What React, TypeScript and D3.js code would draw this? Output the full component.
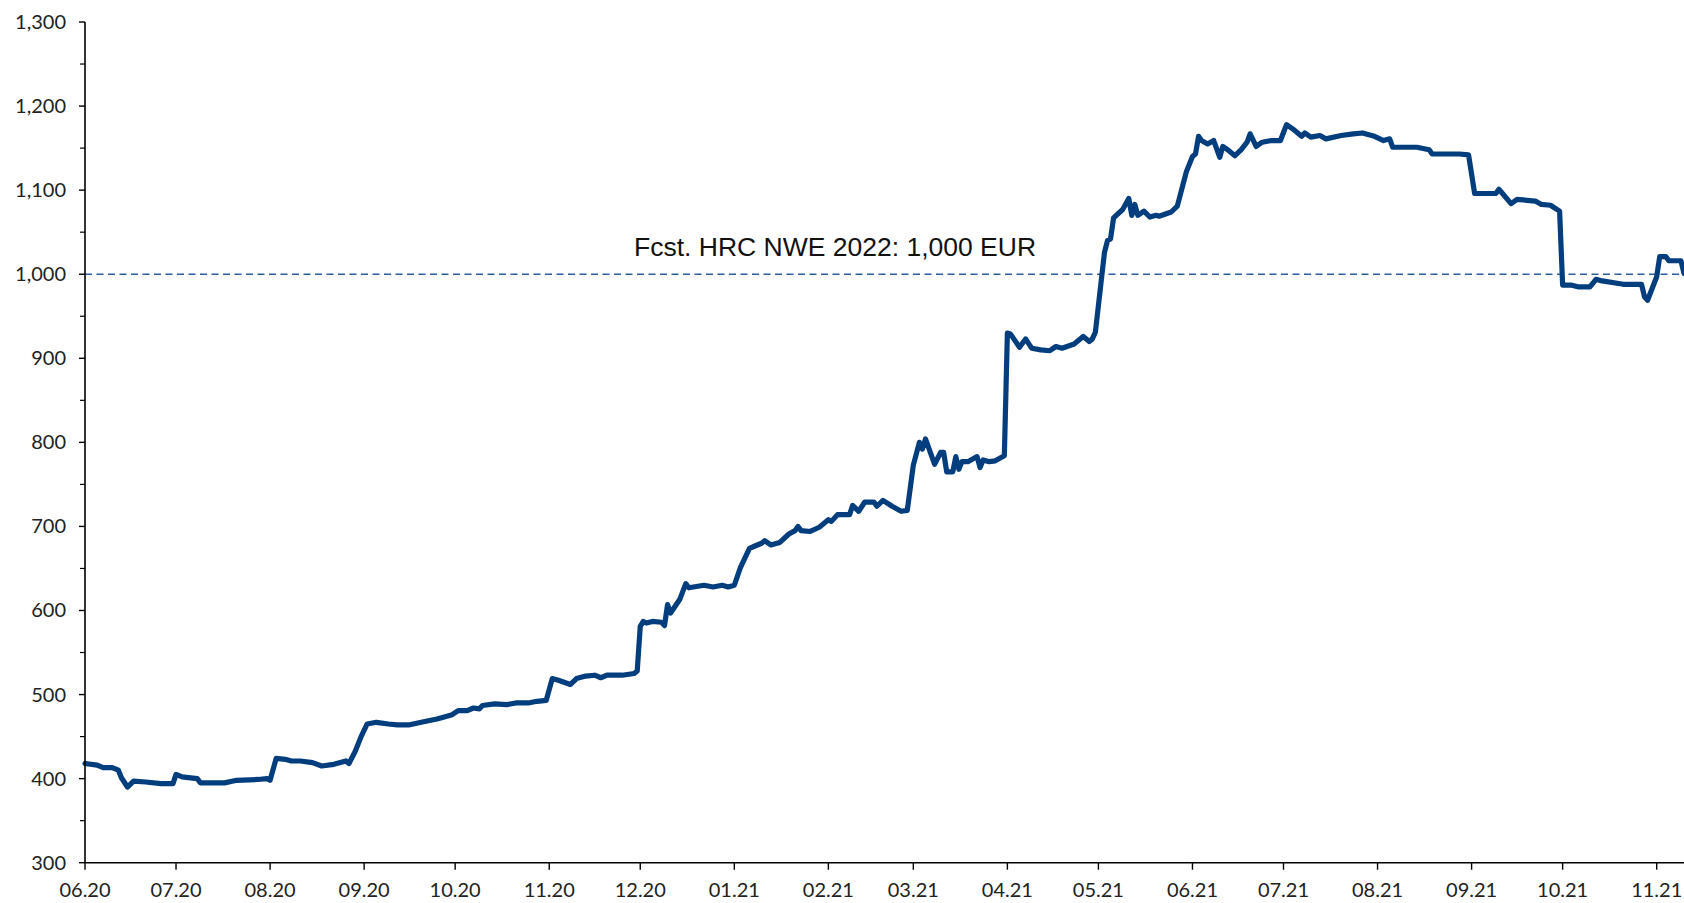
import React from "react";
import * as d3 from "d3";

// ---- data ----
const dates: string[] = [
  "2020-06-01","2020-06-05","2020-06-07","2020-06-10","2020-06-12","2020-06-13","2020-06-15","2020-06-17","2020-06-21","2020-06-26","2020-06-30",
  "2020-07-01","2020-07-03","2020-07-08","2020-07-09","2020-07-17","2020-07-21","2020-07-28","2020-07-31",
  "2020-08-01","2020-08-03","2020-08-06","2020-08-08","2020-08-11","2020-08-15","2020-08-18","2020-08-22","2020-08-26","2020-08-27","2020-08-29","2020-08-31",
  "2020-09-02","2020-09-05","2020-09-09","2020-09-12","2020-09-16","2020-09-21","2020-09-25","2020-09-28","2020-09-30",
  "2020-10-02","2020-10-05","2020-10-07","2020-10-09","2020-10-10","2020-10-14","2020-10-18","2020-10-21","2020-10-25","2020-10-28","2020-10-31",
  "2020-11-02","2020-11-04","2020-11-08","2020-11-10","2020-11-13","2020-11-16","2020-11-18","2020-11-20","2020-11-25","2020-11-29","2020-11-30",
  "2020-12-01","2020-12-02","2020-12-03","2020-12-05","2020-12-08","2020-12-09","2020-12-10","2020-12-11","2020-12-14","2020-12-16","2020-12-17","2020-12-22","2020-12-25","2020-12-28","2020-12-30",
  "2021-01-01","2021-01-03","2021-01-06","2021-01-08","2021-01-10","2021-01-11","2021-01-13","2021-01-16","2021-01-19","2021-01-21","2021-01-22","2021-01-23","2021-01-26","2021-01-29",
  "2021-02-01","2021-02-02","2021-02-04","2021-02-08","2021-02-09","2021-02-11","2021-02-13","2021-02-16","2021-02-17","2021-02-19","2021-02-22","2021-02-25","2021-02-27",
  "2021-03-01","2021-03-03","2021-03-04","2021-03-05","2021-03-08","2021-03-10","2021-03-11","2021-03-12","2021-03-14","2021-03-15","2021-03-16","2021-03-17","2021-03-19","2021-03-21","2021-03-22","2021-03-23","2021-03-24","2021-03-26","2021-03-28","2021-03-31",
  "2021-04-01","2021-04-02","2021-04-05","2021-04-07","2021-04-09","2021-04-12","2021-04-15","2021-04-17","2021-04-19","2021-04-23","2021-04-26","2021-04-28","2021-04-29","2021-04-30",
  "2021-05-03","2021-05-04","2021-05-05","2021-05-06","2021-05-09","2021-05-11","2021-05-12","2021-05-13","2021-05-14","2021-05-16","2021-05-18","2021-05-20","2021-05-21","2021-05-25","2021-05-27","2021-05-30",
  "2021-06-01","2021-06-02","2021-06-03","2021-06-04","2021-06-06","2021-06-08","2021-06-10","2021-06-11","2021-06-13","2021-06-15","2021-06-17","2021-06-19","2021-06-20","2021-06-22","2021-06-24","2021-06-27","2021-06-30",
  "2021-07-02","2021-07-04","2021-07-07","2021-07-08","2021-07-10","2021-07-13","2021-07-15","2021-07-20","2021-07-24","2021-07-27","2021-07-31",
  "2021-08-03","2021-08-05","2021-08-06","2021-08-14","2021-08-18","2021-08-19","2021-08-28","2021-08-31",
  "2021-09-02","2021-09-09","2021-09-10","2021-09-14","2021-09-16","2021-09-22","2021-09-24","2021-09-27","2021-09-30",
  "2021-10-01","2021-10-04","2021-10-06","2021-10-10","2021-10-12","2021-10-14","2021-10-21","2021-10-27","2021-10-28","2021-10-29",
  "2021-11-01","2021-11-02","2021-11-04","2021-11-05","2021-11-09","2021-11-10",
];

const prices: number[] = [
  418,416,413,413,410,401,390,397,396,394,394,
  405,402,400,395,395,398,399,400,
  398,424,423,421,421,419,415,417,421,418,432,450,
  465,467,465,464,464,468,471,474,476,
  481,481,484,483,487,489,488,490,490,492,493,
  519,517,512,519,522,523,520,523,523,525,528,
  581,587,585,587,586,582,607,597,613,632,627,630,628,630,628,
  630,651,674,677,680,683,678,681,691,695,700,695,694,699,
  708,706,714,714,725,718,729,729,724,731,724,718,719,
  773,800,792,804,774,788,788,765,765,783,768,777,777,781,783,770,779,777,778,784,
  930,929,913,923,912,910,909,914,912,917,926,920,923,931,
  1026,1040,1042,1067,1077,1090,1070,1083,1070,1075,1068,1070,1069,1074,1081,1122,
  1140,1143,1164,1159,1155,1159,1139,1152,1147,1141,1148,1157,1167,1152,1157,1159,1159,
  1178,1173,1164,1168,1163,1165,1161,1165,1167,1168,1164,
  1159,1161,1151,1151,1148,1143,1143,1142,
  1096,1096,1101,1084,1089,1087,1083,1082,1075,
  987,987,985,985,994,992,988,988,973,969,
  997,1021,1021,1016,1016,1001,
];

const monthTicks: string[] = [
  "2020-06-01","2020-07-01","2020-08-01","2020-09-01","2020-10-01","2020-11-01","2020-12-01",
  "2021-01-01","2021-02-01","2021-03-01","2021-04-01","2021-05-01","2021-06-01","2021-07-01",
  "2021-08-01","2021-09-01","2021-10-01","2021-11-01",
];
const yTicks: number[] = [300, 400, 500, 600, 700, 800, 900, 1000, 1100, 1200, 1300];
const yMinorTicks: number[] = [350, 450, 550, 650, 750, 850, 950, 1050, 1150, 1250];
const forecastValue = 1000;
const forecastLabel = "Fcst. HRC NWE 2022: 1,000 EUR";
const xDomain: string[] = ["2020-06-01", "2021-11-10"];

const W = 1684;
const H = 903;
const parse = d3.utcParse("%Y-%m-%d");
const fmtTick = d3.utcFormat("%m.%y");

export default function App() {
  const left = 85;
  const top = 22;
  const bottom = 862.7;
  const x = d3
    .scaleUtc()
    .domain(xDomain.map((s) => parse(s) as Date))
    .range([left, W]);
  const y = d3.scaleLinear().domain([300, 1300]).range([bottom, top]);

  const pts = dates.map((d, i) => ({ d: parse(d) as Date, v: prices[i] }));
  const line = d3
    .line<{ d: Date; v: number }>()
    .x((p) => x(p.d))
    .y((p) => y(p.v));

  const axisFont = "Lato, 'Open Sans', sans-serif";

  return (
    <svg
      width={W}
      height={H}
      style={{ position: "absolute", left: 0, top: 0, background: "#fff" }}
    >
      <rect x={0} y={0} width={W} height={H} fill="#fff" />
      {/* forecast dashed line */}
      <line
        x1={left}
        x2={W}
        y1={y(forecastValue)}
        y2={y(forecastValue)}
        stroke="#2E5F9C"
        strokeWidth={1.4}
        strokeDasharray="7,4.5"
      />
      <text
        x={634}
        y={y(forecastValue) - 18}
        fontFamily="'Liberation Sans', Arial, sans-serif"
        fontSize={26.5}
        fill="#111"
      >
        {forecastLabel}
      </text>

      {/* price line */}
      <path
        d={line(pts) || ""}
        fill="none"
        stroke="#023E7D"
        strokeWidth={5.2}
        strokeLinejoin="round"
        strokeLinecap="round"
      />

      {/* y axis */}
      <line x1={left} x2={left} y1={top} y2={bottom} stroke="#000" strokeWidth={1.6} />
      {yTicks.map((t) => (
        <g key={"y" + t}>
          <line x1={left - 6} x2={left} y1={y(t)} y2={y(t)} stroke="#000" strokeWidth={1.4} />
          <text
            x={left - 19}
            y={y(t)}
            dy="0.35em"
            textAnchor="end"
            fontFamily={axisFont}
            fontSize={20}
            fill="#222"
          >
            {d3.format(",")(t)}
          </text>
        </g>
      ))}
      {yMinorTicks.map((t) => (
        <line key={"ym" + t} x1={left - 5} x2={left} y1={y(t)} y2={y(t)} stroke="#000" strokeWidth={1.2} />
      ))}

      {/* x axis */}
      <line x1={left} x2={W} y1={bottom} y2={bottom} stroke="#000" strokeWidth={1.6} />
      {monthTicks.map((s) => {
        const d = parse(s) as Date;
        const xx = x(d);
        return (
          <g key={"x" + s}>
            <line x1={xx} x2={xx} y1={bottom} y2={bottom + 7} stroke="#000" strokeWidth={1.4} />
            <text
              x={xx}
              y={897}
              textAnchor="middle"
              fontFamily={axisFont}
              fontSize={20}
              fill="#222"
            >
              {fmtTick(d)}
            </text>
          </g>
        );
      })}
    </svg>
  );
}
